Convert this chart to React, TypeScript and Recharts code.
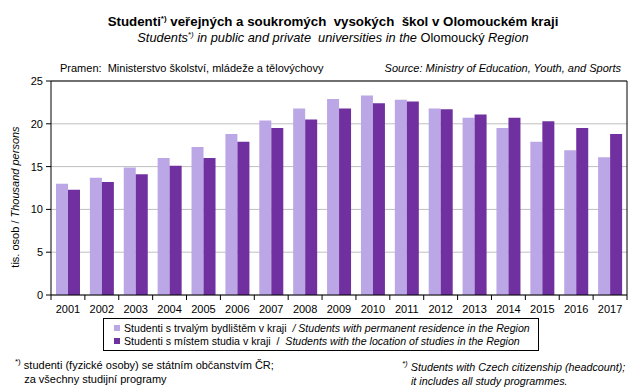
import React from "react";
import { BarChart, Bar, XAxis, YAxis, CartesianGrid, ReferenceLine } from "recharts";

const years = ["2001","2002","2003","2004","2005","2006","2007","2008","2009","2010","2011","2012","2013","2014","2015","2016","2017"];
const residence = [13.0,13.7,14.9,16.0,17.3,18.8,20.4,21.8,22.9,23.3,22.8,21.8,20.7,19.5,17.9,16.9,16.1];
const studyLocation = [12.3,13.2,14.1,15.1,16.0,17.9,19.5,20.5,21.8,22.4,22.6,21.7,21.1,20.7,20.3,19.5,18.8];
const yTicks = [0,5,10,15,20,25];

const seriesNames = {
  residenceCz: "Studenti s trvalým bydlištěm v kraji",
  residenceEn: "Students with permanent residence in the Region",
  locationCz: "Studenti s místem studia v kraji",
  locationEn: "Students with the location of studies in the Region",
};
const colors = { residence: "#BBA6E6", location: "#7030A0" };

const data = years.map((y, i) => ({ year: y, residence: residence[i], location: studyLocation[i] }));

const FONT = "'Liberation Sans', Arial, sans-serif";

const XTick = (props: any) => {
  const { x, y, payload, index } = props;
  const half = payload && payload.offset ? payload.offset : 17;
  return (
    <g>
      <line x1={x - half} x2={x - half} y1={y} y2={y + 5} stroke="#000" />
      {index === years.length - 1 && <line x1={x + half} x2={x + half} y1={y} y2={y + 5} stroke="#000" />}
      <text x={x} y={y + 18} textAnchor="middle" fontSize={11} fontFamily={FONT} fill="#000">{payload.value}</text>
    </g>
  );
};

const abs = (left: number, top: number, extra: any = {}) => ({ position: "absolute" as const, left, top, whiteSpace: "pre" as const, ...extra });
const sup = { fontSize: 8, position: "relative" as const, top: -5 };

export default function App() {
  return (
    <div style={{ position: "absolute", left: 0, top: 0, width: 643, height: 390, background: "#fff", fontFamily: FONT, color: "#000" }}>
      <div style={abs(0, 14, { width: 666, textAlign: "center", fontSize: 13.3, fontWeight: "bold", lineHeight: "16px" })}>
        Studenti<span style={sup}>*)</span> veřejných a soukromých  vysokých  škol v Olomouckém kraji
      </div>
      <div style={abs(0, 30, { width: 666, textAlign: "center", fontSize: 12.8, lineHeight: "15px" })}>
        <i>Students<span style={sup}>*)</span> in public and private  universities in the</i> Olomoucký <i>Region</i>
      </div>
      <div style={abs(60, 61, { fontSize: 11, lineHeight: "14px" })}>Pramen:  Ministerstvo školství, mládeže a tělovýchovy</div>
      <div style={abs(0, 61, { width: 621, textAlign: "right", fontSize: 11, lineHeight: "14px", fontStyle: "italic" })}>Source: Ministry of Education, Youth, and Sports</div>

      <div style={abs(15, 197, { fontSize: 11, lineHeight: "13px", transform: "translate(-50%, -50%) rotate(-90deg)" })}>
        tis. osob / <i>Thousand persons</i>
      </div>

      <div style={{ position: "absolute", left: 0, top: 0 }}>
        <BarChart width={643} height={390} data={data} margin={{ top: 81, right: 0, bottom: 0, left: 0 }} barGap={0} barSize={12}>
          <CartesianGrid vertical={false} stroke="#BFBFBF" />
          <XAxis dataKey="year" axisLine={{ stroke: "#000" }} tickLine={false} tickSize={0} tickMargin={0} height={95} interval={0} tick={<XTick />} />
          <YAxis domain={[0, 25]} ticks={yTicks} width={51} axisLine={{ stroke: "#000" }} tickLine={{ stroke: "#000" }} tickSize={5} tickMargin={3} tick={{ fontSize: 11, fill: "#000", fontFamily: FONT }} interval={0} />
          <YAxis yAxisId="right" orientation="right" domain={[0, 25]} width={16} tick={false} tickLine={false} axisLine={{ stroke: "#000" }} />
          <ReferenceLine y={25} stroke="#000" />
          <Bar dataKey="residence" fill={colors.residence} isAnimationActive={false} />
          <Bar dataKey="location" fill={colors.location} isAnimationActive={false} />
        </BarChart>
      </div>

      <div style={{ position: "absolute", left: 103, top: 318, width: 434, height: 31, border: "1px solid #000", fontSize: 10.6, lineHeight: "13px" }}>
        <div style={abs(10, 3)}>
          <span style={{ display: "inline-block", width: 6, height: 6, background: colors.residence, marginRight: 4, verticalAlign: "1px" }} />
          {seriesNames.residenceCz}  <i>/ {seriesNames.residenceEn}</i>
        </div>
        <div style={abs(10, 16)}>
          <span style={{ display: "inline-block", width: 6, height: 6, background: colors.location, marginRight: 4, verticalAlign: "1px" }} />
          {seriesNames.locationCz}  /  <i>{seriesNames.locationEn}</i>
        </div>
      </div>

      <div style={abs(15, 359, { fontSize: 11, lineHeight: "12px" })}>
        <span style={sup}>*)</span> studenti (fyzické osoby) se státním občanstvím ČR;{"\n"}   za všechny studijní programy
      </div>
      <div style={abs(402, 361, { fontSize: 10.75, lineHeight: "12px", fontStyle: "italic" })}>
        <span style={sup}>*)</span> Students with Czech citizenship (headcount);{"\n"}   it includes all study programmes.
      </div>
    </div>
  );
}
